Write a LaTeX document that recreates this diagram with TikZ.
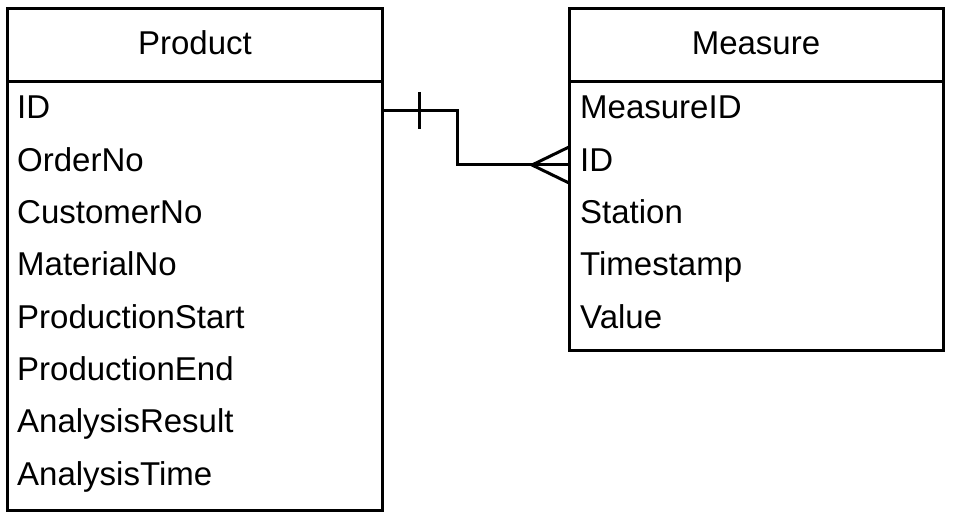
\documentclass[tikz,border=0pt]{standalone}
\usepackage{fontspec}
\setmainfont{Liberation Sans}
\begin{document}
\begin{tikzpicture}[x=1pt,y=-1pt,
  boxline/.style={draw=black,line width=3pt},
  hdr/.style={font=\fontsize{33}{36}\selectfont,anchor=base,inner sep=0pt},
  rowtxt/.style={font=\fontsize{33}{36}\selectfont,anchor=base west,inner sep=0pt},
  conn/.style={draw=black,line width=3pt}]
\useasboundingbox (0,0) rectangle (953,521);
\fill[white] (0,0) rectangle (953,521);
% Product table
\draw[boxline] (7,9) rectangle (382,510);
\draw[boxline] (7,82) -- (382,82);
\node[hdr] (ptitle) at (195,55) {Product};
\foreach \t [count=\i from 0] in {ID,OrderNo,CustomerNo,MaterialNo,ProductionStart,ProductionEnd,AnalysisResult,AnalysisTime}
  \node[rowtxt] (prow\i) at (17,{119+52.3*\i}) {\t};
% Measure table
\draw[boxline] (569,9) rectangle (943,350);
\draw[boxline] (569,82) -- (943,82);
\node[hdr] (mtitle) at (756,55) {Measure};
\foreach \t [count=\i from 0] in {MeasureID,ID,Station,Timestamp,Value}
  \node[rowtxt] (mrow\i) at (580,{119+52.3*\i}) {\t};
% connector
\coordinate (pid) at (382,111);
\coordinate (mid) at (569,165);
\coordinate (bend) at (457,111);
\draw[conn] (pid) -- (bend) |- (mid);
\draw[conn] (419,92) -- (419,129);
\coordinate (apex) at (532,165);
\draw[conn] (569,147) -- (apex) -- (569,183);
\end{tikzpicture}
\end{document}
